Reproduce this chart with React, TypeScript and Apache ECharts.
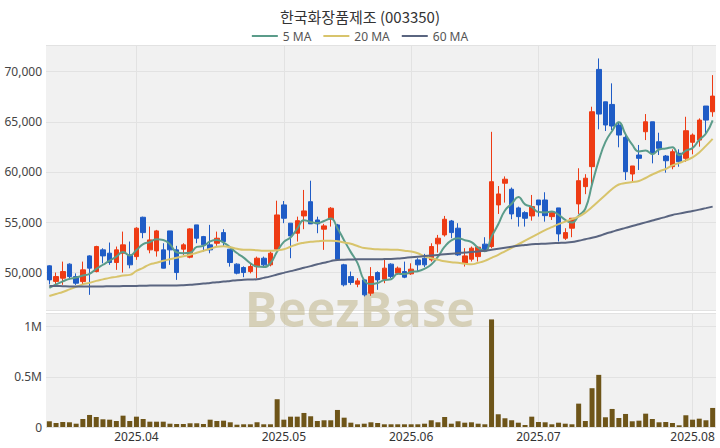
import React, { useEffect, useRef } from "react";
import * as echarts from "echarts";

const marDays = [13, 14, 17, 18, 19, 20, 21, 24, 25, 26, 27, 28, 31];
const aprDays = [1, 2, 3, 4, 7, 8, 9, 10, 11, 14, 15, 16, 17, 18, 21, 22, 23, 24, 25, 28, 29, 30];
const mayDays = [2, 7, 8, 9, 12, 13, 14, 15, 16, 19, 20, 21, 22, 23, 26, 27, 28, 29, 30];
const junDays = [2, 4, 5, 9, 10, 11, 12, 13, 16, 17, 18, 19, 20, 23, 24, 25, 26, 27, 30];
const julDays = [1, 2, 3, 4, 7, 8, 9, 10, 11, 14, 15, 16, 17, 18, 21, 22, 23, 24, 25, 28, 29, 30, 31];
const augDays = [1, 4, 5, 6];

const pad = (n: number) => (n < 10 ? "0" + n : "" + n);
const dates: string[] = [
  ...marDays.map((d) => `2025-03-${pad(d)}`),
  ...aprDays.map((d) => `2025-04-${pad(d)}`),
  ...mayDays.map((d) => `2025-05-${pad(d)}`),
  ...junDays.map((d) => `2025-06-${pad(d)}`),
  ...julDays.map((d) => `2025-07-${pad(d)}`),
  ...augDays.map((d) => `2025-08-${pad(d)}`),
];

const opens = [50650,49100,49420,50820,49580,49080,51640,50080,52240,51910,
50980,51910,51740,51570,55490,52240,52140,52240,54130,52240,
52310,51510,54730,53560,52740,52900,53960,52310,50820,50480,
50080,50580,51410,50750,52310,56720,54900,53900,55620,57040,
55220,54300,55290,54730,50750,49580,48820,49250,47930,49980,
49320,50820,49920,50080,49850,51240,51410,51240,52840,53730,
55120,54400,50920,51310,51570,52810,52570,56720,58880,58280,
56420,55950,55620,57210,57210,55550,56420,53400,54400,56820,
58540,60530,70220,66990,66730,64680,63450,59800,61690,64010,
65000,63010,61590,60530,61860,61360,62960,63180,66570,66000];

const closes = [49250,49580,50080,49580,48920,50250,50420,52570,51640,50980,
52240,52740,50750,54400,53960,53230,54130,50420,52240,49980,
52740,54330,53400,52740,52240,53400,53070,50980,49920,49980,
50580,51410,50750,51910,55720,55390,53630,55150,56120,54830,
54830,54630,56390,51310,48760,48990,49150,47760,49580,49250,
50420,49580,50420,49520,50320,50750,50750,52570,53400,55290,
53960,51740,51640,52410,52510,52210,59030,57810,59280,55820,
55550,55390,56550,56720,55650,55950,53830,53960,55390,59130,
59380,66000,65770,64680,64580,63680,60030,60600,61360,65000,
61860,62360,61120,62020,61020,64110,63680,65170,65170,67560];

const lows = [48800,48590,48760,49300,48750,48760,47760,50000,50900,50750,
50250,49980,50400,51250,53400,51900,51570,50400,50750,49250,
51740,51400,52900,52070,51900,52640,52570,50570,49800,49520,
49900,49420,50580,50600,52240,54900,51410,53070,54300,54830,
53900,52240,54560,51250,48600,48760,48520,47600,47660,48260,
48920,49420,49750,49420,49750,50080,50520,51070,51970,53560,
53400,51640,50580,51080,51080,52140,52410,55820,56950,55290,
54560,54560,55150,55550,55050,55220,53070,53230,53500,55820,
57790,58600,64250,64080,64180,62460,59200,59030,60200,63180,
60860,61690,59930,60270,60520,61020,61760,62520,63680,65500];

const highs = [50700,49980,51070,50900,49900,51070,51700,52650,52400,52970,
52570,54060,53070,54500,55550,54560,54230,52900,54130,52640,
52900,54400,54730,53630,54730,54060,54300,52310,50900,50600,
50900,51570,51570,52100,57140,57110,54900,55550,58210,59130,
55550,54830,56500,54830,50850,50080,49420,49320,50520,50100,
51240,50900,50580,51070,50900,51410,51840,52900,53730,55620,
55220,54900,52410,52570,52600,53500,64000,58600,59560,58450,
56550,56090,57710,57210,57980,55950,56420,54400,55390,60370,
59780,66500,71310,67000,68830,65000,63680,60600,62690,65770,
65000,63910,61690,62260,62260,65500,63840,65340,66570,69650];

// volume in thousands of shares
const volumesK = [57,40,50,47,33,80,120,100,77,73,
60,113,60,103,80,53,53,53,33,30,
30,37,37,30,73,60,63,47,23,27,
27,47,27,27,277,73,103,103,140,107,
60,67,67,170,93,43,27,33,47,40,
27,27,27,27,27,27,33,67,47,100,
33,57,43,47,33,27,1073,127,87,67,
43,20,103,50,47,27,43,33,27,233,
60,387,520,97,180,90,130,57,63,133,
80,47,50,40,17,117,73,83,67,190];

const ma5Head = [48450, 48800, 49100, 49350];

const ma20 = [47650,47850,48050,48300,48550,48800,48950,49150,49300,49450,
49550,49680,49750,50150,50450,50800,50950,51150,51300,51450,
51600,51750,51950,52150,52350,52550,52600,52500,52350,52250,
52250,52200,52150,52150,52200,52300,52550,52800,52950,53050,
53100,53150,53150,53100,52980,52850,52620,52420,52350,52300,
52280,52260,52250,52150,52080,51900,51600,51400,51250,51100,
51000,50950,50850,50800,50950,51150,51450,51750,52100,52450,
52800,53150,53500,53850,54200,54500,54800,55050,55300,55550,
55950,56500,57100,57700,58300,58750,58900,59000,59100,59400,
59750,60050,60300,60650,60900,61150,61450,61950,62600,63300];

const ma60 = [48650,48640,48620,48600,48590,48580,48580,48590,48600,48610,
48620,48630,48640,48650,48660,48680,48690,48700,48700,48700,
48720,48760,48820,48880,48950,49020,49080,49150,49220,49260,
49290,49320,49450,49600,49780,49950,50120,50280,50450,50620,
50800,50950,51120,51240,51260,51280,51300,51310,51310,51310,
51320,51340,51380,51440,51500,51560,51620,51680,51740,51800,
51860,51920,51980,52030,52080,52150,52250,52350,52450,52550,
52650,52720,52800,52830,52860,52900,52930,52960,53020,53150,
53300,53450,53620,53850,54050,54250,54430,54620,54800,54980,
55160,55340,55530,55720,55850,55980,56110,56250,56400,56550];

const volumes = volumesK.map((v) => v * 1000);
const ma5 = closes.map((_, i) => {
  if (i < 4) return ma5Head[i];
  let s = 0;
  for (let k = i - 4; k <= i; k++) s += closes[k];
  return Math.round(s / 5);
});
const candleData = opens.map((o, i) => [o, closes[i], lows[i], highs[i]]);
const monthStartIdx = dates
  .map((d, i) => (i > 0 && d.slice(5, 7) !== dates[i - 1].slice(5, 7) ? i : -1))
  .filter((i) => i >= 0);

const UP = "#ee3b14";
const DOWN = "#1f5cc6";
const GRID_BG = "#f1f1f1";
const SPLIT = "#e2e2e2";
const FONT = "'Noto Sans', 'Noto Sans CJK KR', sans-serif";

export default function App() {
  const ref = useRef<HTMLDivElement>(null);
  useEffect(() => {
    if (!ref.current) return;
    const chart = echarts.init(ref.current, undefined, { renderer: "svg" });
    const isMonthStart = (idx: number) => monthStartIdx.includes(idx);
    const xBase = {
      type: "category" as const,
      data: dates,
      boundaryGap: true,
      axisLine: { show: false },
      axisTick: { show: false },
      splitLine: {
        show: true,
        interval: (idx: number) => isMonthStart(idx),
        alignWithLabel: true,
        lineStyle: { color: SPLIT, width: 1 },
      },
    };
    chart.setOption({
      animation: false,
      backgroundColor: "#ffffff",
      textStyle: { fontFamily: FONT },
      title: {
        text: "한국화장품제조 (003350)",
        left: "center",
        top: 4,
        textStyle: {
          fontFamily: "'Noto Sans CJK KR', sans-serif",
          fontSize: 15,
          fontWeight: "normal",
          color: "#333333",
        },
      },
      legend: {
        top: 25,
        left: "center",
        itemWidth: 26,
        itemHeight: 2,
        itemGap: 12,
        icon: "rect",
        textStyle: { fontSize: 12, color: "#555555", fontFamily: FONT },
        data: ["5 MA", "20 MA", "60 MA"],
      },
      grid: [
        { left: 46, right: 4, top: 45, height: 265, show: true, backgroundColor: GRID_BG, borderWidth: 0 },
        { left: 46, right: 4, top: 313, height: 114, show: true, backgroundColor: GRID_BG, borderWidth: 0 },
      ],
      xAxis: [
        { ...xBase, gridIndex: 0, axisLabel: { show: false } },
        {
          ...xBase,
          gridIndex: 1,
          axisLabel: {
            show: true,
            interval: (idx: number) => isMonthStart(idx),
            formatter: (v: string) => v.slice(0, 7).replace("-", "."),
            color: "#333333",
            fontSize: 12,
            margin: 3,
            fontFamily: FONT,
          },
        },
      ],
      yAxis: [
        {
          type: "value",
          gridIndex: 0,
          min: 46250,
          max: 72650,
          splitNumber: 5,
          axisLine: { show: false },
          axisTick: { show: false },
          axisLabel: {
            color: "#444444",
            fontSize: 12,
            margin: 4,
            showMinLabel: false,
            showMaxLabel: false,
            fontFamily: FONT,
            formatter: (v: number) => v.toLocaleString("en-US"),
          },
          splitLine: { show: true, lineStyle: { color: SPLIT } },
        },
        {
          type: "value",
          gridIndex: 1,
          min: 0,
          max: 1137000,
          interval: 500000,
          axisLine: { show: false },
          axisTick: { show: false },
          axisLabel: {
            color: "#444444",
            fontSize: 12,
            margin: 4,
            showMaxLabel: false,
            fontFamily: FONT,
            formatter: (v: number) => (v === 0 ? "0" : v / 1000000 + "M"),
          },
          splitLine: { show: true, lineStyle: { color: SPLIT } },
        },
      ],
      graphic: [
        {
          type: "text",
          left: "center",
          top: 283,
          z: 1,
          silent: true,
          style: {
            text: "BeezBase",
            fontSize: 49,
            fontWeight: "bold",
            fontFamily: "'Open Sans', 'Noto Sans', sans-serif",
            fill: "rgba(196,186,146,0.6)",
          },
        },
      ],
      series: [
        {
          name: "candle",
          type: "candlestick",
          xAxisIndex: 0,
          yAxisIndex: 0,
          barWidth: 5,
          data: candleData,
          z: 3,
          itemStyle: {
            color: UP,
            color0: DOWN,
            borderColor: UP,
            borderColor0: DOWN,
            borderWidth: 1,
          },
        },
        {
          name: "5 MA",
          type: "line",
          data: ma5,
          smooth: true,
          symbol: "none",
          z: 4,
          lineStyle: { width: 2, color: "#5b9c8a" },
          itemStyle: { color: "#5b9c8a" },
        },
        {
          name: "20 MA",
          type: "line",
          data: ma20,
          smooth: true,
          symbol: "none",
          z: 4,
          lineStyle: { width: 2, color: "#d8c46c" },
          itemStyle: { color: "#d8c46c" },
        },
        {
          name: "60 MA",
          type: "line",
          data: ma60,
          smooth: true,
          symbol: "none",
          z: 4,
          lineStyle: { width: 2, color: "#5a6580" },
          itemStyle: { color: "#5a6580" },
        },
        {
          name: "volume",
          type: "bar",
          xAxisIndex: 1,
          yAxisIndex: 1,
          barWidth: 5,
          data: volumes,
          itemStyle: { color: "#6e5519" },
        },
      ],
    });
    return () => chart.dispose();
  }, []);
  return (
    <div
      ref={ref}
      style={{ position: "fixed", left: 0, top: 0, width: 720, height: 448 }}
    />
  );
}
